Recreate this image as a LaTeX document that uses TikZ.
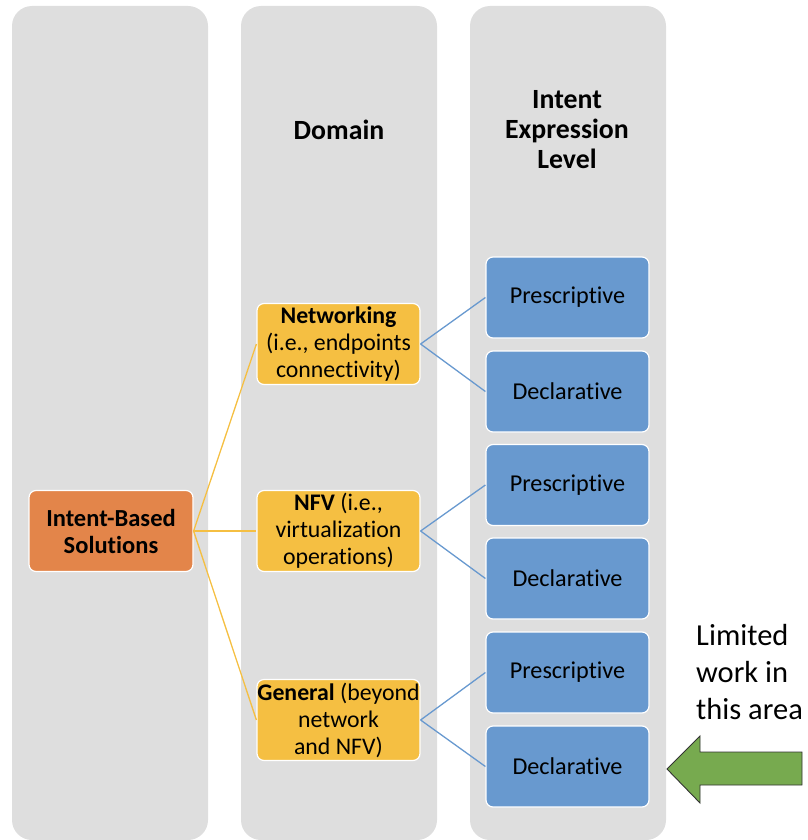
\documentclass[tikz,border=0pt]{standalone}
\usepackage{fontspec}
\setmainfont[Ligatures=NoCommon]{Carlito}
\definecolor{colgray}{HTML}{DEDEDE}
\definecolor{rootorange}{HTML}{E3854A}
\definecolor{domgold}{HTML}{F5BF42}
\definecolor{levblue}{HTML}{6899CF}
\definecolor{arrgreen}{HTML}{77AA4F}
\begin{document}
\begin{tikzpicture}[x=1pt,y=-1pt,
  column/.style={fill=colgray,rounded corners=20pt},
  box/.style={draw=white,line width=1.2pt,rounded corners=7pt,align=center,
    minimum width=163pt,minimum height=81pt,inner sep=0pt,
    font=\fontsize{24.2}{27}\selectfont},
  rootbox/.style={box,fill=rootorange,minimum width=164pt,
    font=\fontsize{24.5}{27}\selectfont},
  dombox/.style={box,fill=domgold,font=\fontsize{23.8}{27}\selectfont},
  levbox/.style={box,fill=levblue},
  header/.style={align=center,font=\bfseries\fontsize{27.8}{30}\selectfont},
  goldlink/.style={draw=domgold,line width=1.3pt},
  bluelink/.style={draw=levblue,line width=1.3pt}]
\useasboundingbox (0,0) rectangle (807,840);

% three background columns
\fill[column] (12,6) rectangle (208,840);
\fill[column] (241,6) rectangle (437,840);
\fill[column] (470,6) rectangle (666,840);

% column headings
\node[header] (hdom) at (339,130) {Domain};
\node[header] (hlev) at (567,130) {Intent\\Expression\\Level};

% root
\node[rootbox] (root) at (111,531) {\textbf{Intent-Based}\\\textbf{Solutions}};

% domains
\node[dombox] (net) at (338.5,344) {\textbf{Networking}\\(i.e., endpoints\\connectivity)};
\node[dombox] (nfv) at (338.5,531) {\textbf{NFV} (i.e.,\\virtualization\\operations)};
\node[dombox] (gen) at (338.5,720) {\textbf{General} (beyond\\network\\and NFV)};

% expression levels
\node[levbox] (p1) at (567.5,297.5) {Prescriptive};
\node[levbox] (d1) at (567.5,391.5) {Declarative};
\node[levbox] (p2) at (567.5,485) {Prescriptive};
\node[levbox] (d2) at (567.5,578.5) {Declarative};
\node[levbox] (p3) at (567.5,672.5) {Prescriptive};
\node[levbox] (d3) at (567.5,766.5) {Declarative};

% connectors
\draw[goldlink] (root.east) -- (net.west);
\draw[goldlink] (root.east) -- (nfv.west);
\draw[goldlink] (root.east) -- (gen.west);
\draw[bluelink] (net.east) -- (p1.west);
\draw[bluelink] (net.east) -- (d1.west);
\draw[bluelink] (nfv.east) -- (p2.west);
\draw[bluelink] (nfv.east) -- (d2.west);
\draw[bluelink] (gen.east) -- (p3.west);
\draw[bluelink] (gen.east) -- (d3.west);

% remark and pointer
\node[anchor=north west,align=left,inner sep=0pt,
  font=\fontsize{30.5}{37}\selectfont] (note) at (696,624) {Limited\\work in\\this area};
\draw[fill=arrgreen,draw=black!80,line width=0.9pt,line join=miter]
  (667,769) -- (700,736) -- (700,752) -- (802,752) -- (802,785)
  -- (700,785) -- (700,803) -- cycle;
\end{tikzpicture}
\end{document}
